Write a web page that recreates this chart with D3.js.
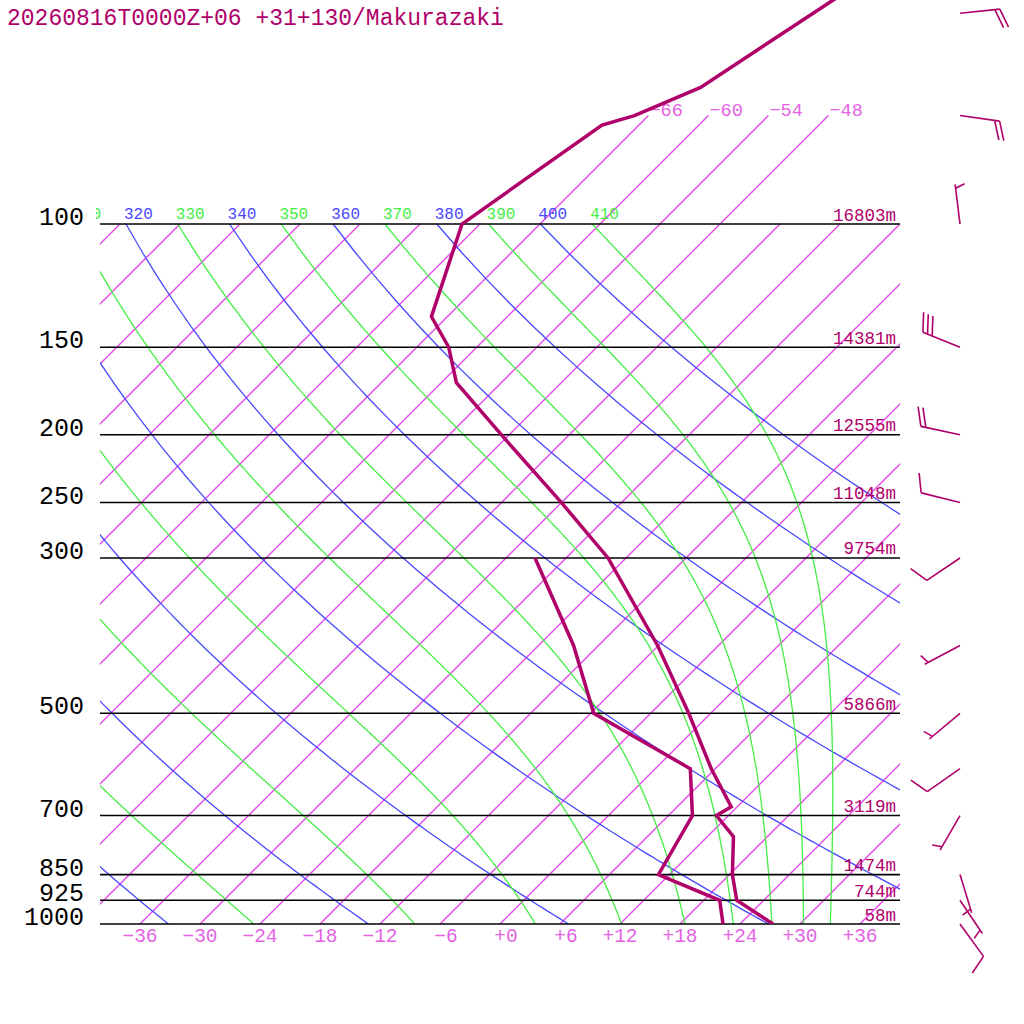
<!DOCTYPE html>
<html>
<head>
<meta charset="utf-8">
<script src="https://cdn.jsdelivr.net/npm/d3@7"></script>
<style>
  body { margin: 0; background: #fff; }
</style>
</head>
<body>
<div id="chart"></div>
<script>
// station / run
const title = "20260816T0000Z+06 +31+130/Makurazaki";

// pressure levels drawn as horizontal lines, with their heights
const levels = [100, 150, 200, 250, 300, 500, 700, 850, 925, 1000];
const heights = ["16803m", "14381m", "12555m", "11048m", "9754m", "5866m", "3119m", "1474m", "744m", "58m"];

// temperature profile (hPa, degC)
const tempP = [45, 63.8, 70, 72.2, 100, 135.6, 150, 168.5, 200, 250, 300, 400, 500, 600, 680, 700, 750, 850, 925, 1000];
const tempT = [-58.1, -63.6, -67.4, -69.7, -73.8, -67.6, -62.8, -58.5, -48.8, -36.0, -25.8, -12.1, -2.2, 5.6, 11.4, 10.8, 14.6, 18.3, 21.3, 27.3];

// dew point profile (hPa, degC)
const dewP = [300, 400, 500, 600, 700, 850, 925, 1000];
const dewT = [-33.1, -20.5, -11.7, 3.5, 8.4, 10.9, 19.6, 22.3];

// winds: direction (deg) and speed (kt)
const windP = [50, 70, 100, 150, 200, 250, 300, 400, 500, 600, 700, 850, 925, 1000];
const windDir = [84, 98, 353, 292, 282, 284, 236, 242, 230, 235, 210, 163, 146, 144];
const windKt = [20, 20, 5, 30, 20, 10, 10, 5, 5, 10, 5, 5, 5, 10];

// background lines
const isotherms = [-108, -102, -96, -90, -84, -78, -72, -66, -60, -54, -48, -42, -36, -30, -24, -18, -12, -6, 0, 6, 12, 18, 24, 30, 36];
const isoTopLabels = [-66, -60, -54, -48];
const isoLabels = [-36, -30, -24, -18, -12, -6, 0, 6, 12, 18, 24, 30, 36];
const dryTheta = [240, 260, 280, 300, 320, 340, 360, 380, 400];
const moistTheta = [250, 270, 290, 310, 330, 350, 370, 390, 410];

const W = 1024, H = 1024;
const col = {curve: "#b0006a", iso: "#e848e8", isoTxt: "#e463e4", dry: "#4848ff", moist: "#44ee44"};
const mono = "'Liberation Mono', 'Courier New', monospace";

const svg = d3.select("#chart").append("svg")
    .attr("width", W).attr("height", H);

// log-p vertical, 45 degree skew
const y = d3.scaleLog().domain([1000, 100]).range([924, 224]);
const xT = d3.scaleLinear().domain([-40, 40]).range([100, 900]);
const sx = (t, p) => xT(t) + (y(1000) - y(p));

const defs = svg.append("defs");
defs.append("clipPath").attr("id", "plot")
  .append("rect").attr("x", 100).attr("y", 0).attr("width", 800).attr("height", 924);
defs.append("clipPath").attr("id", "lbl")
  .append("rect").attr("x", 96).attr("y", 0).attr("width", 928).attr("height", 1024);

const plot = svg.append("g").attr("clip-path", "url(#plot)");
const line = d3.line().x(d => sx(d[1], d[0])).y(d => y(d[0]));
const topP = t => isoTopLabels.includes(t) ? 70 : 100;

// isotherms
plot.append("g").selectAll("path")
  .data(isotherms)
  .join("path")
    .attr("d", t => line([[1000, t], [topP(t), t]]))
    .attr("fill", "none")
    .attr("stroke", col.iso)
    .attr("stroke-width", 1.4);

// dry adiabats
const kappa = 0.2857;
const pGrid = d3.range(100, 1001, 10);
const dryLine = th => pGrid.map(p => [p, th * Math.pow(p / 1000, kappa) - 273.15]);
plot.append("g").selectAll("path")
  .data(dryTheta)
  .join("path")
    .attr("d", th => line(dryLine(th)))
    .attr("fill", "none").attr("stroke", col.dry).attr("stroke-width", 1.3);

// pseudo-adiabats, integrated down from 100 hPa
function dTdp(p, T) {
  const tc = T - 273.15;
  const es = 6.112 * Math.exp(17.67 * tc / (tc + 243.5));
  const rs = 0.622 * es / (p - es);
  const Rd = 287.04, cp = 1005.7, Lv = 2.501e6;
  return ((Rd * T + Lv * rs) / p) / (cp + Lv * Lv * rs * 0.622 / (Rd * T * T));
}
function moistLine(th) {
  let T = th * Math.pow(0.1, kappa), p = 100;
  const dp = 2, pts = [[p, T - 273.15]];
  while (p < 1000) {
    const k1 = dTdp(p, T), k2 = dTdp(p + dp / 2, T + k1 * dp / 2),
          k3 = dTdp(p + dp / 2, T + k2 * dp / 2), k4 = dTdp(p + dp, T + k3 * dp);
    T += dp * (k1 + 2 * k2 + 2 * k3 + k4) / 6;
    p += dp;
    pts.push([p, T - 273.15]);
  }
  return pts;
}
plot.append("g").selectAll("path")
  .data(moistTheta)
  .join("path")
    .attr("d", th => line(moistLine(th)))
    .attr("fill", "none").attr("stroke", col.moist).attr("stroke-width", 1.3);

// pressure lines
svg.append("g").selectAll("path")
  .data(levels)
  .join("path")
    .attr("d", p => `M100,${y(p)}H900`)
    .attr("stroke", "#000").attr("stroke-width", 1.6);

// labels
const lbl = svg.append("g").attr("clip-path", "url(#lbl)").style("font-family", mono);

const thetaLabels = dryTheta.map(t => ["d", t]).concat(moistTheta.map(t => ["m", t]))
    .filter(d => sx(d[1] * Math.pow(0.1, kappa) - 273.15, 100) > 60);
lbl.append("g").selectAll("text")
  .data(thetaLabels)
  .join("text")
    .attr("x", d => sx(d[1] * Math.pow(0.1, kappa) - 273.15, 100) - 2)
    .attr("y", 219)
    .attr("fill", d => d[0] === "d" ? col.dry : col.moist)
    .style("font-size", "16px")
    .text(d => d[1]);

const fmt = t => t > 0 ? "+" + t : t === 0 ? "+0" : "\u2212" + (-t);
lbl.append("g").selectAll("text")
  .data(isoLabels)
  .join("text")
    .attr("x", t => sx(t, 1000) + (Math.abs(t) < 10 ? 6 : 0))
    .attr("y", 942)
    .attr("text-anchor", "middle")
    .attr("fill", col.isoTxt)
    .style("font-size", "19.5px")
    .text(fmt);

lbl.append("g").selectAll("text")
  .data(isoTopLabels)
  .join("text")
    .attr("x", t => sx(t, 70) + 1)
    .attr("y", 116)
    .attr("fill", col.isoTxt)
    .style("font-size", "18.5px")
    .text(fmt);

lbl.append("g").selectAll("text")
  .data(levels)
  .join("text")
    .attr("x", 896)
    .attr("y", p => y(p) - 3.5)
    .attr("text-anchor", "end")
    .attr("fill", col.curve)
    .style("font-size", "17.5px")
    .text((p, i) => heights[i]);

svg.append("g").selectAll("text")
  .data(levels)
  .join("text")
    .attr("x", 84)
    .attr("y", p => y(p) + 1)
    .attr("text-anchor", "end")
    .style("font-family", mono)
    .style("font-size", "25px")
    .attr("fill", "#000")
    .text(p => p);

svg.append("text")
    .attr("x", 7).attr("y", 25)
    .style("font-family", mono)
    .style("font-size", "23px")
    .attr("fill", col.curve)
    .text(title);

// temperature and dew point
const curves = svg.append("g").attr("clip-path", "url(#plot)");
curves.append("path")
    .attr("d", line(tempP.map((p, i) => [p, tempT[i]])))
    .attr("fill", "none").attr("stroke", col.curve).attr("stroke-width", 3.5);
curves.append("path")
    .attr("d", line(dewP.map((p, i) => [p, dewT[i]])))
    .attr("fill", "none").attr("stroke", col.curve).attr("stroke-width", 3.5);

// wind barbs
const barbs = svg.append("g").attr("stroke", col.curve).attr("stroke-width", 1.6).attr("fill", "none");
windP.forEach((p, i) => {
  const a = windDir[i] * Math.PI / 180;
  const ux = Math.sin(a), uy = -Math.cos(a);
  const bx0 = 960, by0 = y(p);
  const tx = bx0 + 40 * ux, ty = by0 + 40 * uy;
  barbs.append("line").attr("x1", bx0).attr("y1", by0).attr("x2", tx).attr("y2", ty);
  const r = 70 * Math.PI / 180;
  const vx = ux * Math.cos(r) - uy * Math.sin(r), vy = ux * Math.sin(r) + uy * Math.cos(r);
  let spd = windKt[i], pos = 0;
  while (spd >= 10) {
    const px = tx - pos * ux, py = ty - pos * uy;
    barbs.append("line").attr("x1", px).attr("y1", py).attr("x2", px + 20 * vx).attr("y2", py + 20 * vy);
    spd -= 10; pos += 5;
  }
  if (spd >= 5) {
    if (pos === 0) pos = 4;
    const px = tx - pos * ux, py = ty - pos * uy;
    barbs.append("line").attr("x1", px).attr("y1", py).attr("x2", px + 10 * vx).attr("y2", py + 10 * vy);
  }
});
</script>
</body>
</html>
